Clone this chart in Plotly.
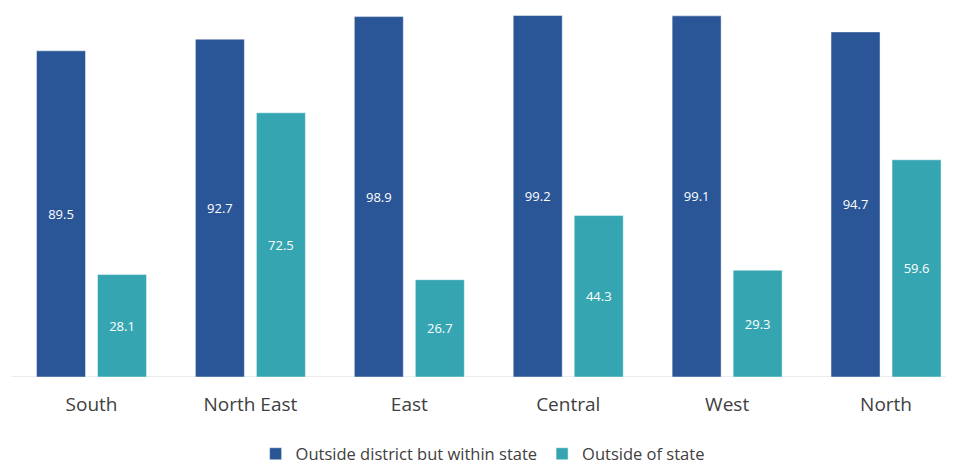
import plotly.graph_objects as go

regions = ["South", "North East", "East", "Central", "West", "North"]
within_state = [89.5, 92.7, 98.9, 99.2, 99.1, 94.7]
outside_state = [28.1, 72.5, 26.7, 44.3, 29.3, 59.6]
series_names = ["Outside district but within state", "Outside of state"]
colors = ["#2a5597", "#35a6b1"]

fig = go.Figure()
for name, vals, col in zip(series_names, [within_state, outside_state], colors):
    fig.add_trace(go.Bar(
        x=regions, y=vals, name=name,
        marker=dict(color=col, line=dict(color="rgba(255,255,255,0.45)", width=1)),
        text=[f"{v:.1f}" for v in vals],
        textposition="inside", insidetextanchor="middle",
        textfont=dict(family="Open Sans", size=13, color="white"),
        hoverinfo="x+y",
    ))

fig.update_layout(
    width=954, height=480,
    margin=dict(l=0, r=0, t=0, b=111),
    paper_bgcolor="white", plot_bgcolor="white",
    barmode="group", bargap=0.232, bargroupgap=0.197,
    font=dict(family="Open Sans", color="#404040"),
    showlegend=True,
    legend=dict(orientation="h", x=0.4975, xanchor="center", y=-0.2087, yanchor="middle",
                font=dict(size=16.5, color="#404040"), itemwidth=30,
                traceorder="normal"),
    xaxis=dict(range=[-0.5255, 5.478], showgrid=False, showline=False, zeroline=False,
               ticks="", tickfont=dict(size=19, color="#404040"), ticklabelstandoff=14),
    yaxis=dict(range=[0, 101.26], visible=False, showgrid=False, zeroline=False),
    shapes=[dict(type="line", xref="paper", yref="y", x0=0.0034, x1=1, y0=0, y1=0,
                 line=dict(color="#d9d9d9", width=1), layer="below")],
)

fig.write_html("out.html")
